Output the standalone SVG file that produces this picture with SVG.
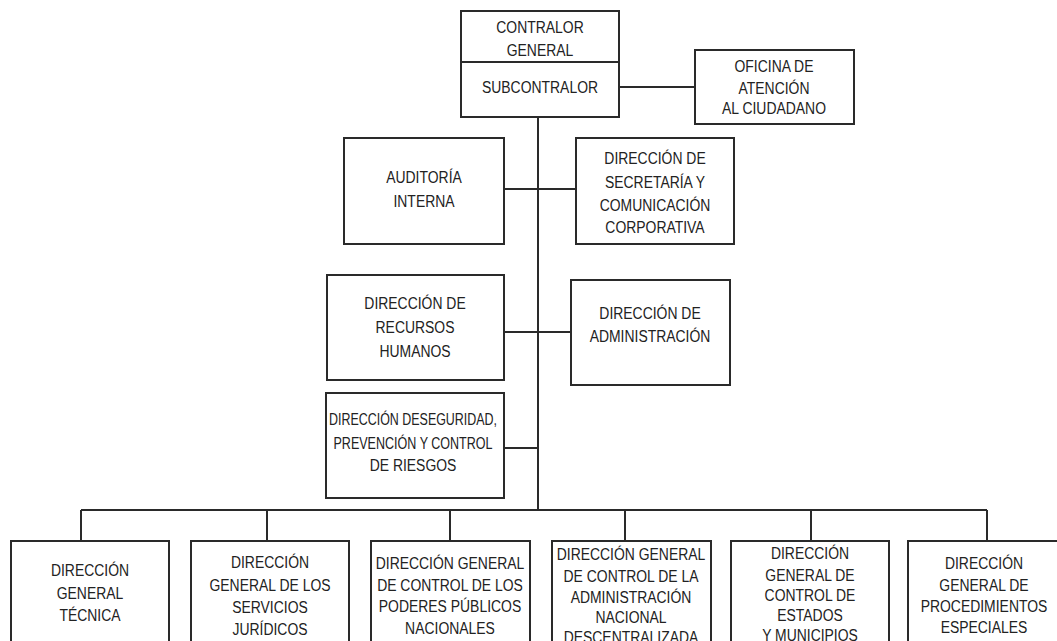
<svg xmlns="http://www.w3.org/2000/svg" width="1057" height="641" viewBox="0 0 1057 641">
<style>
.box{fill:#fff;stroke:#2a2a2a;stroke-width:2}
.ln{fill:none;stroke:#2a2a2a;stroke-width:2}
text{font-family:"Liberation Sans",Arial,sans-serif;font-size:17px;fill:#222;text-anchor:middle}
</style>
<rect width="1057" height="641" fill="#fff"/>
<g id="connectors">
<path class="ln" d="M538 117V510M81 510H987M81 510V541M267 510V541M450 510V541M625 510V541M811 510V541M987 510V541M619 87H695M504 189H576M504 332H571M504 448H538"/>
</g>
<g id="contralor">
<rect class="box" x="461" y="11" width="158" height="106"/>
<line class="ln" x1="461" y1="62" x2="619" y2="62"/>
<g transform="translate(540 0) scale(0.82 1)">
<text x="0" y="33">CONTRALOR</text>
<text x="0" y="56">GENERAL</text>
<text x="0" y="93">SUBCONTRALOR</text>
</g>
</g>
<g id="oficina">
<rect class="box" x="695" y="50" width="159" height="74"/>
<g transform="translate(774 0) scale(0.82 1)">
<text x="0" y="72">OFICINA DE</text>
<text x="0" y="94">ATENCIÓN</text>
<text x="0" y="114">AL CIUDADANO</text>
</g>
</g>
<g id="auditoria">
<rect class="box" x="344" y="138" width="160" height="106"/>
<g transform="translate(424 0) scale(0.82 1)">
<text x="0" y="183">AUDITORÍA</text>
<text x="0" y="207">INTERNA</text>
</g>
</g>
<g id="secretaria">
<rect class="box" x="576" y="138" width="158" height="106"/>
<g transform="translate(655 0) scale(0.82 1)">
<text x="0" y="164">DIRECCIÓN DE</text>
<text x="0" y="188">SECRETARÍA Y</text>
<text x="0" y="211">COMUNICACIÓN</text>
<text x="0" y="233">CORPORATIVA</text>
</g>
</g>
<g id="rrhh">
<rect class="box" x="327" y="275" width="177" height="105"/>
<g transform="translate(415 0) scale(0.82 1)">
<text x="0" y="309">DIRECCIÓN DE</text>
<text x="0" y="333">RECURSOS</text>
<text x="0" y="357">HUMANOS</text>
</g>
</g>
<g id="administracion">
<rect class="box" x="571" y="280" width="159" height="105"/>
<g transform="translate(650 0) scale(0.82 1)">
<text x="0" y="319">DIRECCIÓN DE</text>
<text x="0" y="342">ADMINISTRACIÓN</text>
</g>
</g>
<g id="seguridad">
<rect class="box" x="326" y="393" width="178" height="105"/>
<g transform="translate(413 0) scale(0.82 1)">
<text x="0" y="425" textLength="205" lengthAdjust="spacingAndGlyphs">DIRECCIÓN DESEGURIDAD,</text>
<text x="0" y="449" textLength="194" lengthAdjust="spacingAndGlyphs">PREVENCIÓN Y CONTROL</text>
<text x="0" y="471">DE RIESGOS</text>
</g>
</g>
<g id="tecnica">
<rect class="box" x="11" y="541" width="158" height="110"/>
<g transform="translate(90 0) scale(0.82 1)">
<text x="0" y="576">DIRECCIÓN</text>
<text x="0" y="599">GENERAL</text>
<text x="0" y="621">TÉCNICA</text>
</g>
</g>
<g id="juridicos">
<rect class="box" x="191" y="541" width="158" height="110"/>
<g transform="translate(270 0) scale(0.82 1)">
<text x="0" y="568">DIRECCIÓN</text>
<text x="0" y="591">GENERAL DE LOS</text>
<text x="0" y="613">SERVICIOS</text>
<text x="0" y="635">JURÍDICOS</text>
</g>
</g>
<g id="poderes">
<rect class="box" x="371" y="541" width="159" height="110"/>
<g transform="translate(450 0) scale(0.82 1)">
<text x="0" y="569">DIRECCIÓN GENERAL</text>
<text x="0" y="591">DE CONTROL DE LOS</text>
<text x="0" y="612">PODERES PÚBLICOS</text>
<text x="0" y="634">NACIONALES</text>
</g>
</g>
<g id="descentralizada">
<rect class="box" x="552" y="541" width="159" height="110"/>
<g transform="translate(631 0) scale(0.82 1)">
<text x="0" y="560">DIRECCIÓN GENERAL</text>
<text x="0" y="582">DE CONTROL DE LA</text>
<text x="0" y="603">ADMINISTRACIÓN</text>
<text x="0" y="623">NACIONAL</text>
<text x="0" y="643">DESCENTRALIZADA</text>
</g>
</g>
<g id="estados">
<rect class="box" x="731" y="541" width="158" height="110"/>
<g transform="translate(810 0) scale(0.82 1)">
<text x="0" y="559">DIRECCIÓN</text>
<text x="0" y="581">GENERAL DE</text>
<text x="0" y="601">CONTROL DE</text>
<text x="0" y="621">ESTADOS</text>
<text x="0" y="641">Y MUNICIPIOS</text>
</g>
</g>
<g id="procedimientos">
<rect class="box" x="908" y="541" width="158" height="110"/>
<g transform="translate(984 0) scale(0.82 1)">
<text x="0" y="569">DIRECCIÓN</text>
<text x="0" y="591">GENERAL DE</text>
<text x="0" y="612">PROCEDIMIENTOS</text>
<text x="0" y="633">ESPECIALES</text>
</g>
</g>
</svg>
